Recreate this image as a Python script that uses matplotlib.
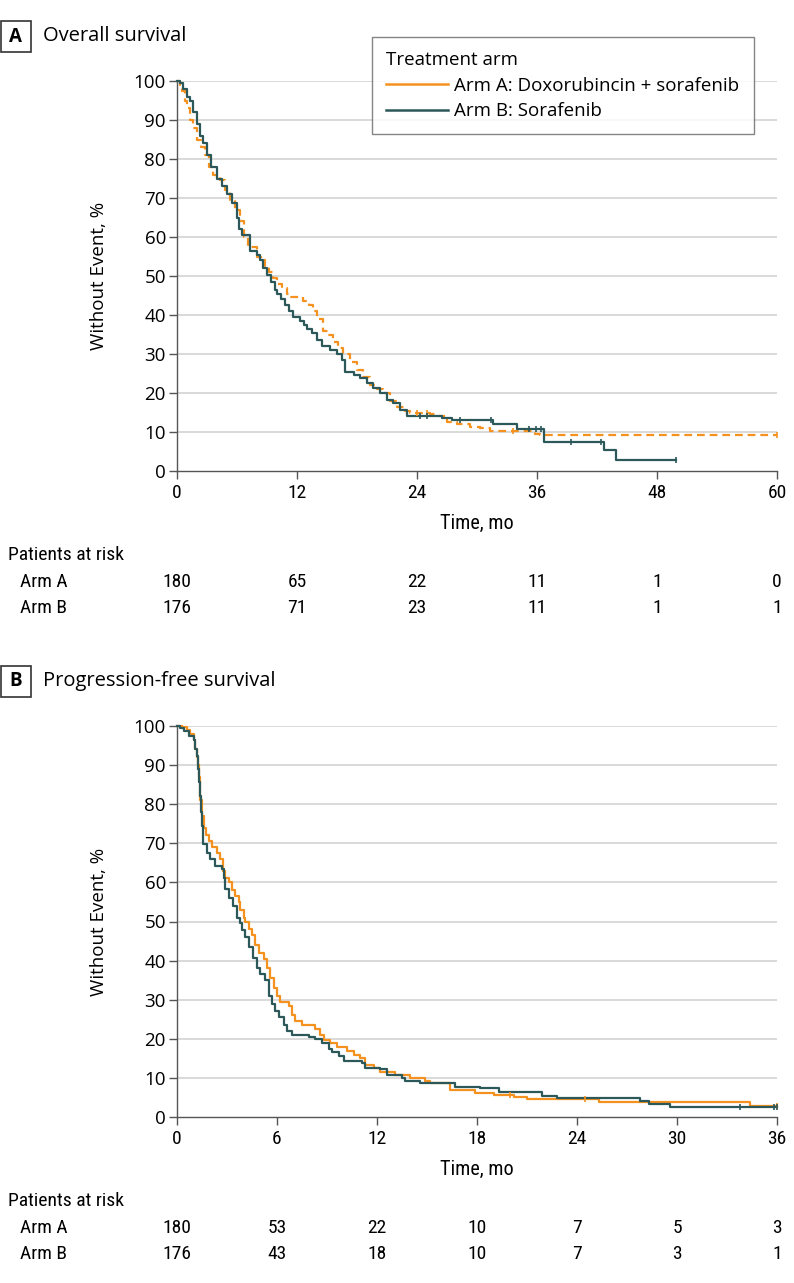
import numpy as np
import matplotlib
matplotlib.use("Agg")
import matplotlib.pyplot as plt
import matplotlib.font_manager as fm
from matplotlib.lines import Line2D
from matplotlib.patches import Rectangle
from matplotlib.transforms import blended_transform_factory

# fonts: a regular humanist sans and a narrower one for ticks / at-risk table
names = {f.name for f in fm.fontManager.ttflist}
REG = "Open Sans" if "Open Sans" in names else "DejaVu Sans"
NARROW = REG
for cand in ["Liberation Sans Narrow", "Roboto Condensed", "Roboto"]:
    if cand in names:
        NARROW = cand
        break

ORANGE = "#f5911e"
TEAL = "#2c5859"

# ---- Panel A: overall survival (months, % without event) ----
os_a_t = [0, 0.3, 0.5, 0.8, 1.0, 1.3, 1.6, 2.0, 2.4, 2.8, 3.2, 3.6, 4.3, 4.8, 5.3, 5.8,
          6.3, 6.7, 7.1, 8.0, 8.4, 8.8, 9.2, 9.6, 10.0, 10.5, 11.0, 11.3, 12.6, 13.2,
          13.6, 14.0, 14.6, 15.1, 15.6, 16.1, 16.6, 17.3, 18.0, 18.6, 19.3, 20.0, 20.6,
          21.3, 22.0, 22.8, 23.3, 25.3, 25.9, 27.0, 28.0, 29.3, 30.3, 31.3, 35.8, 36.3, 60]
os_a_s = [100, 99, 97.5, 95, 93, 90, 88, 85, 83, 81, 78, 76, 74.5, 72, 69.5, 67,
          64, 60, 57.5, 55, 54, 52.5, 51, 49.5, 48, 47, 45.5, 44.5, 43.5, 42.5,
          41, 39, 36, 35, 33, 31.5, 30, 28, 26, 24, 22, 21, 20,
          18, 16.5, 15.5, 15, 14.5, 14, 12.5, 12, 11.4, 11, 10.3, 9.6, 9.2, 9.2]
os_a_cens = [24.0, 25.0, 33.6, 60]

os_b_t = [0, 0.3, 0.6, 1.0, 1.3, 1.6, 2.0, 2.3, 2.6, 3.0, 3.4, 4.0, 4.5, 5.0, 5.5, 6.0,
          6.2, 6.5, 7.3, 8.0, 8.3, 8.6, 9.0, 9.4, 9.8, 10.0, 10.4, 10.8, 11.2, 11.6,
          12.3, 12.7, 13.0, 13.5, 14.0, 14.5, 15.3, 16.0, 16.5, 16.8, 17.7, 18.3, 19.0,
          19.6, 20.3, 21.0, 21.6, 22.3, 23.0, 26.5, 27.5, 31.6, 34.0, 36.7, 42.7, 43.9, 49.9]
os_b_s = [100, 99.5, 98, 96, 95, 92, 89, 86, 84, 81, 78, 75, 73, 71, 68.6, 65,
          62, 60.5, 56.5, 55.5, 54, 52, 50.3, 48.5, 46.5, 45.5, 44, 42.5, 41, 39.5,
          38.5, 37.5, 36.5, 35.5, 33.5, 32, 31, 30, 28.5, 25.5, 24.5, 23.8, 22.5,
          21.2, 20, 18.2, 17.5, 15.6, 14.2, 13.6, 13.1, 12.1, 10.7, 7.5, 5.4, 2.8, 2.8]
os_b_cens = [24.3, 25.0, 28.3, 31.4, 35.2, 35.9, 36.4, 39.4, 42.4, 49.9]

# ---- Panel B: progression-free survival ----
pfs_a_t = [0, 0.3, 0.6, 0.8, 1.0, 1.1, 1.2, 1.25, 1.3, 1.35, 1.4, 1.5, 1.6, 1.75, 1.9,
           2.1, 2.4, 2.6, 2.75, 2.9, 3.1, 3.3, 3.5, 3.7, 3.8, 4.0, 4.1, 4.3, 4.5, 4.7,
           4.9, 5.2, 5.4, 5.6, 5.8, 6.0, 6.2, 6.7, 6.9, 7.1, 7.5, 8.3, 8.6, 8.8, 9.2,
           9.6, 10.2, 10.6, 11.0, 11.3, 11.8, 12.2, 13.1, 14.0, 14.9, 15.2, 16.4, 17.9,
           19.0, 20.2, 21.0, 25.3, 34.4, 36]
pfs_a_s = [100, 99.7, 99, 98, 96.5, 94, 92, 90, 87, 84, 81, 77, 74, 72, 70.5,
           69, 67.5, 66, 63, 61, 60, 58, 56.5, 55, 53, 51, 50, 48, 46.5, 44,
           42, 40.5, 38, 35.5, 33, 31, 29.5, 28.5, 26, 24.5, 23.5, 22.5, 21, 19.7, 19,
           18, 17, 15.9, 15, 13.3, 12.5, 11.6, 10.8, 9.9, 9.1, 8.6, 6.9, 6.2,
           5.6, 5.0, 4.6, 3.9, 2.9, 2.9]
pfs_a_cens = [20.0, 24.5, 36]

pfs_b_t = [0, 0.2, 0.4, 0.7, 1.0, 1.1, 1.2, 1.27, 1.34, 1.38, 1.42, 1.48, 1.52, 1.58,
           1.78, 2.0, 2.28, 2.68, 2.8, 2.88, 3.1, 3.38, 3.6, 3.75, 3.88, 4.1, 4.3, 4.57,
           4.8, 5.0, 5.3, 5.5, 5.7, 5.9, 6.1, 6.4, 6.6, 6.9, 7.9, 8.3, 8.7, 9.1, 9.3,
           9.7, 10.0, 11.1, 11.3, 12.2, 12.6, 13.5, 13.7, 14.6, 16.7, 18.2, 19.3, 21.9,
           22.8, 27.8, 28.3, 29.6, 36]
pfs_b_s = [100, 99.5, 98.8, 97.5, 96.5, 94, 92.4, 89, 85.6, 82, 78, 76, 74.4, 69.7,
           67.6, 66, 64.2, 63.3, 61, 58.2, 56, 53.9, 51, 49.5, 47.9, 46, 43.5, 40.7,
           38, 36.5, 35, 31, 29, 27, 25.5, 23.5, 22, 21, 20.5, 20, 19, 17.5, 16.5,
           15.5, 14.2, 13.8, 12.5, 12.2, 10.8, 9.9, 9.1, 8.6, 7.8, 7.3, 6.5, 5.4,
           4.9, 4.0, 3.3, 2.5, 2.5]
pfs_b_cens = [33.8, 35.8, 36]

os_ticks = [0, 12, 24, 36, 48, 60]
os_risk_a = [180, 65, 22, 11, 1, 0]
os_risk_b = [176, 71, 23, 11, 1, 1]
pfs_ticks = [0, 6, 12, 18, 24, 30, 36]
pfs_risk_a = [180, 53, 22, 10, 7, 5, 3]
pfs_risk_b = [176, 43, 18, 10, 7, 3, 1]

W, H = 794, 1283
fig = plt.figure(figsize=(W / 100, H / 100), dpi=100)


def fx(px):
    return px / W


def fy(py):
    return 1 - py / H


def step_value(t, s, x):
    i = np.searchsorted(t, x, side="right") - 1
    return np.asarray(s)[i]


def km(ax, t, s, cens, color, ls="-"):
    ax.plot(t, s, drawstyle="steps-post", color=color, lw=1.6, ls=ls,
            clip_on=False, zorder=3)
    ax.plot(cens, step_value(t, s, cens), ls="none", marker="|", ms=5,
            mew=1.2, color=color, clip_on=False, zorder=4)


def panel(top, bottom, ticks, letter, title, risk_a, risk_b):
    ax = fig.add_axes([fx(177), fy(bottom), fx(777) - fx(177), fy(top) - fy(bottom)])
    ax.set_xlim(ticks[0], ticks[-1])
    ax.set_ylim(0, 100)
    ax.set_xticks(ticks)
    ax.set_yticks(range(0, 101, 10))
    for y in range(10, 101, 10):
        ax.axhline(y, color="#d9d9d9", lw=1.4, zorder=0)
    for side in ["top", "right"]:
        ax.spines[side].set_visible(False)
    for side in ["left", "bottom"]:
        ax.spines[side].set_color("#555555")
        ax.spines[side].set_linewidth(1.0)
    ax.tick_params(axis="both", direction="out", color="#555555", width=1.0)
    ax.tick_params(axis="y", length=6, pad=2)
    ax.tick_params(axis="x", length=6, pad=3)
    for lab in ax.get_yticklabels():
        lab.set_fontfamily(REG)
        lab.set_fontsize(13.5)
    for lab in ax.get_xticklabels():
        lab.set_fontfamily(NARROW)
        lab.set_fontsize(14)
    ax.set_ylabel("Without Event, %", family=REG, fontsize=13.5)
    ax.yaxis.set_label_coords((108 - 177) / 600, 0.5)

    # panel letter box and title
    fig.patches.append(Rectangle((fx(0.5), fy(top - 29)), fx(30), fy(0) - fy(31),
                                 transform=fig.transFigure, fill=False,
                                 ec="#333333", lw=1.2))
    fig.text(fx(15.5), fy(top - 44.5), letter, ha="center", va="center",
             family=REG, weight="bold", fontsize=13.5)
    fig.text(fx(43), fy(top - 45), title, ha="left", va="center",
             family=REG, fontsize=14.5)

    fig.text(fx(477), fy(bottom + 52), "Time, mo", ha="center", va="center",
             family=NARROW, fontsize=14.5)
    fig.text(fx(8), fy(bottom + 84), "Patients at risk", ha="left", va="center",
             family=NARROW, fontsize=14)
    tr = blended_transform_factory(ax.transData, fig.transFigure)
    for row_y, name, vals in [(bottom + 111, "Arm A", risk_a), (bottom + 137, "Arm B", risk_b)]:
        fig.text(fx(20), fy(row_y), name, ha="left", va="center",
                 family=NARROW, fontsize=14)
        for xt, v in zip(ticks, vals):
            ax.text(xt, fy(row_y), str(v), transform=tr, ha="center", va="center",
                    family=NARROW, fontsize=14)
    return ax


axA = panel(81, 471, os_ticks, "A", "Overall survival", os_risk_a, os_risk_b)
km(axA, os_a_t, os_a_s, os_a_cens, ORANGE, ls=(0, (3.5, 2.2)))
km(axA, os_b_t, os_b_s, os_b_cens, TEAL)

axB = panel(726, 1117, pfs_ticks, "B", "Progression-free survival", pfs_risk_a, pfs_risk_b)
km(axB, pfs_a_t, pfs_a_s, pfs_a_cens, ORANGE)
km(axB, pfs_b_t, pfs_b_s, pfs_b_cens, TEAL)

handles = [Line2D([], [], color=ORANGE, lw=1.8), Line2D([], [], color=TEAL, lw=1.8)]
leg = fig.legend(handles, ["Arm A: Doxorubincin + sorafenib", "Arm B: Sorafenib"],
                 title="Treatment arm", loc="upper left",
                 bbox_to_anchor=(fx(372), fy(37)), bbox_transform=fig.transFigure,
                 prop={"family": REG, "size": 13.5},
                 title_fontproperties={"family": REG, "size": 13.5},
                 alignment="left", frameon=True, fancybox=False, borderpad=0.75,
                 handlelength=3.3, handletextpad=0.35, labelspacing=0.4, borderaxespad=0)
leg.get_frame().set_edgecolor("#666666")
leg.get_frame().set_linewidth(1.0)

fig.savefig("out.png", dpi=100)
